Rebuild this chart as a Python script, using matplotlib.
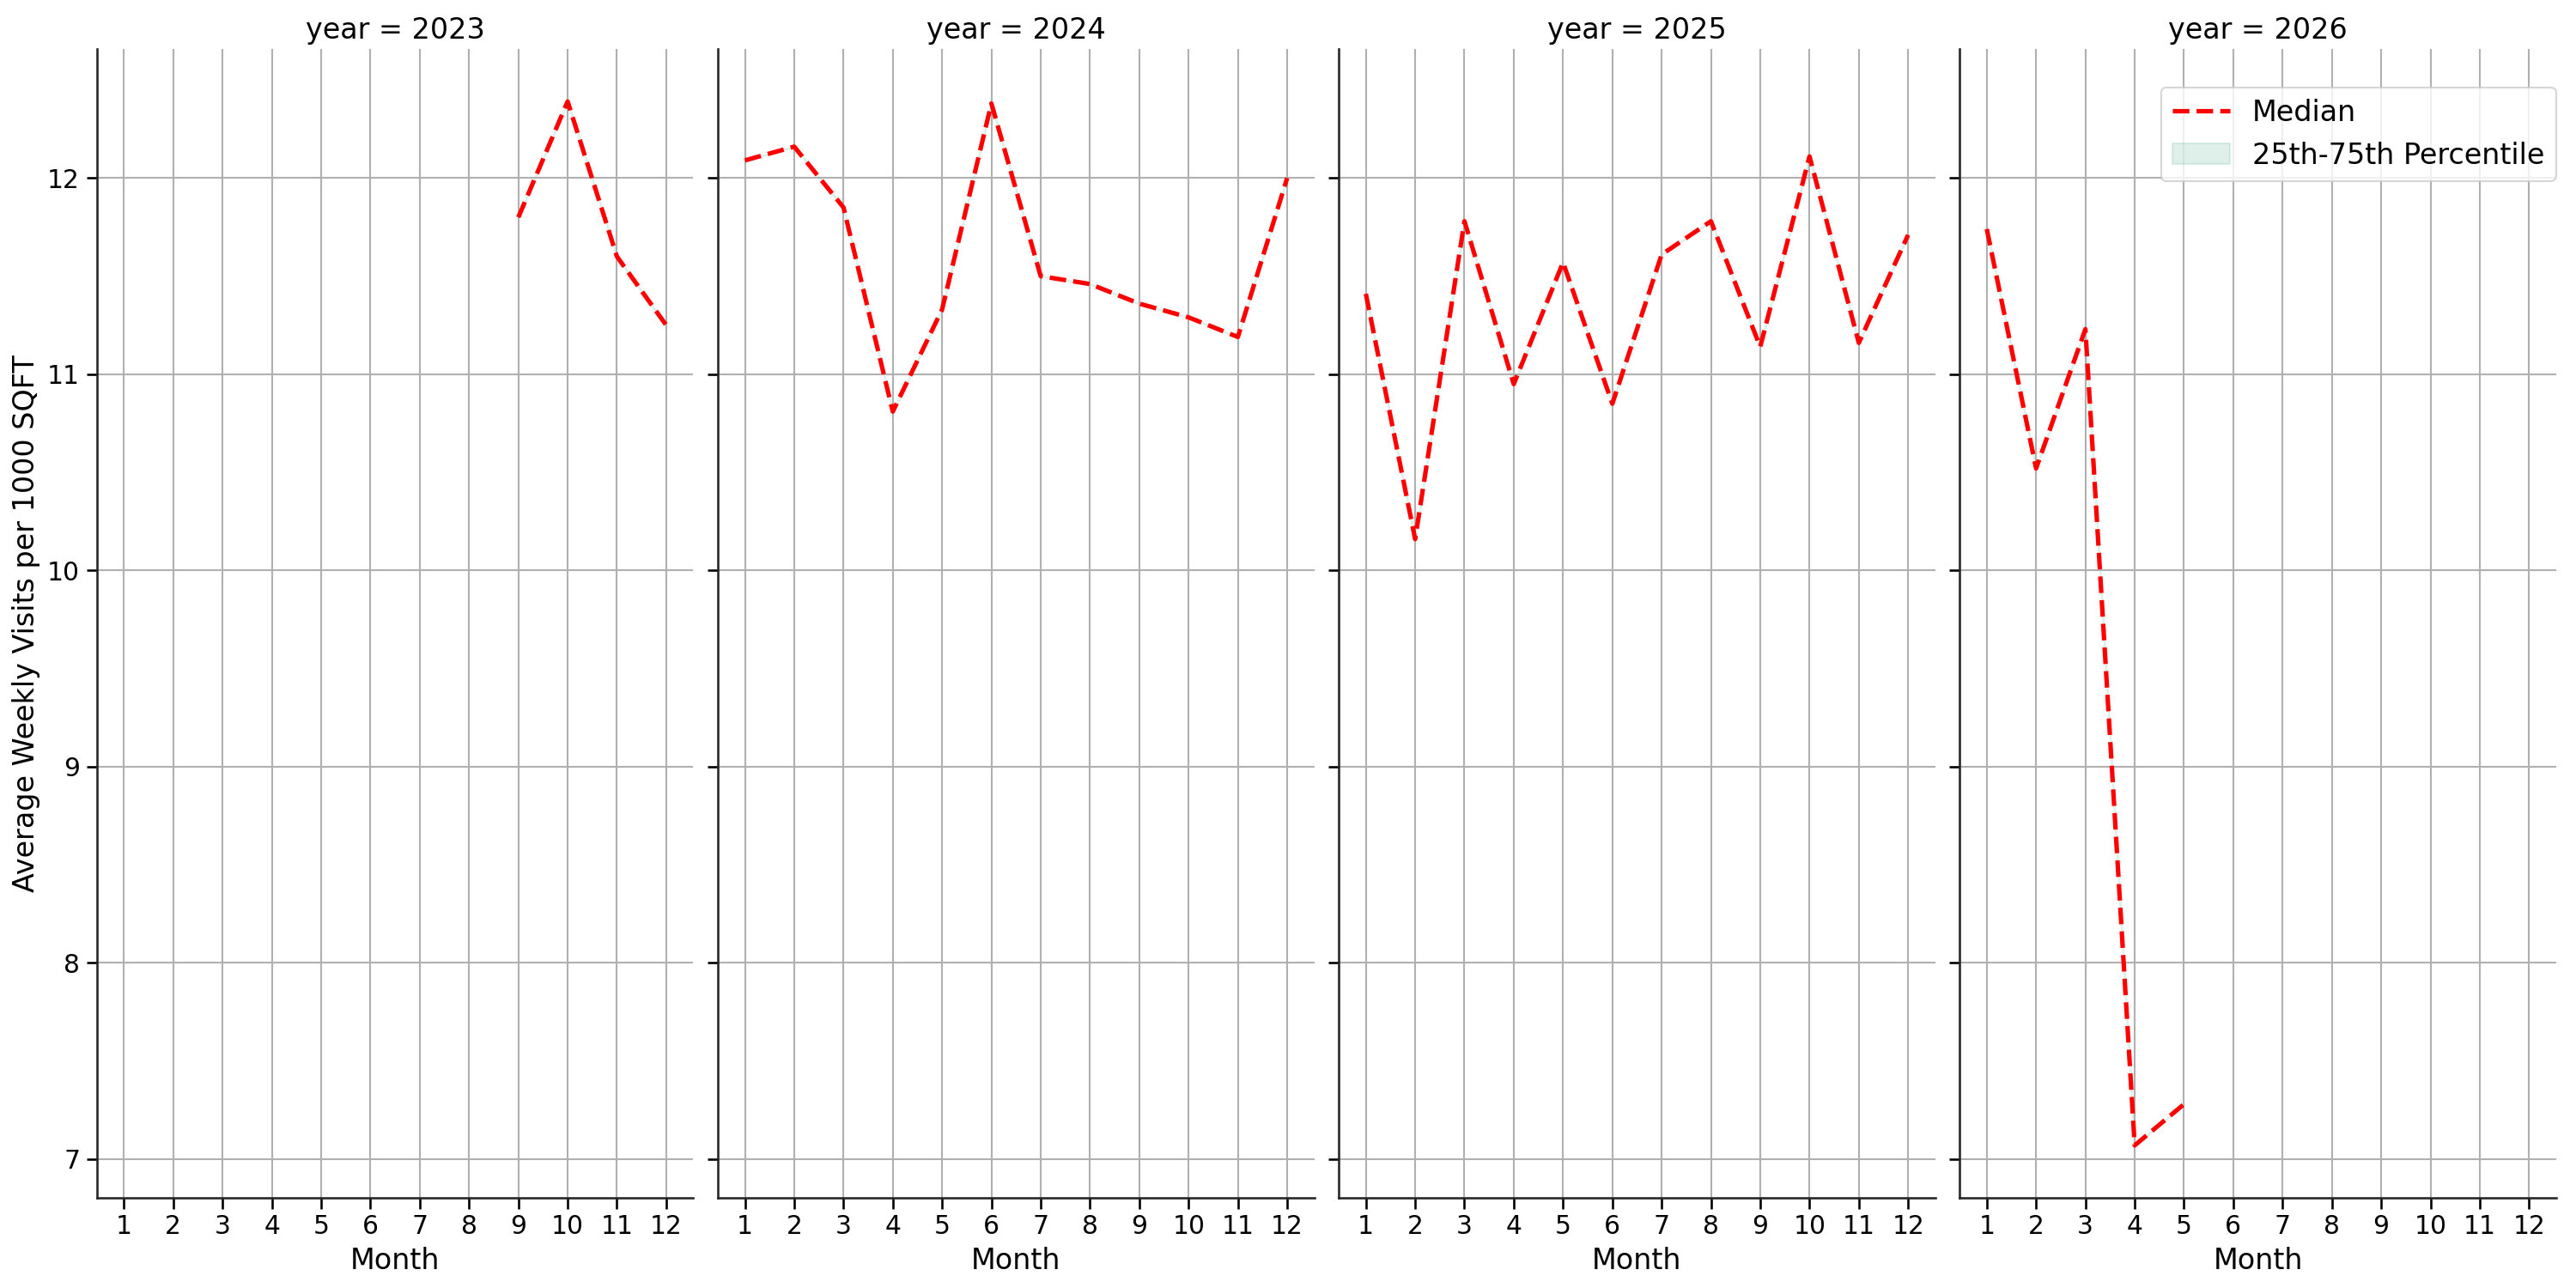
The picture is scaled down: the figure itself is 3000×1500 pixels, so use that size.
import matplotlib.pyplot as plt

# ── data (median weekly visits per 1000 sqft) ─────────────────────────────────
years = [2023, 2024, 2025, 2026]

months_2023 = [9, 10, 11, 12]
median_2023 = [11.80, 12.39, 11.60, 11.25]

months_2024 = [1, 2, 3, 4, 5, 6, 7, 8, 9, 10, 11, 12]
median_2024 = [12.09, 12.16, 11.85, 10.81, 11.33, 12.38, 11.50, 11.46, 11.36, 11.29, 11.19, 12.00]

months_2025 = [1, 2, 3, 4, 5, 6, 7, 8, 9, 10, 11, 12]
median_2025 = [11.41, 10.16, 11.78, 10.95, 11.57, 10.85, 11.61, 11.78, 11.14, 12.11, 11.16, 11.71]

months_2026 = [1, 2, 3, 4, 5]
median_2026 = [11.74, 10.52, 11.23, 7.07, 7.28]

month_ticks = list(range(1, 13))

series = [
    (months_2023, median_2023),
    (months_2024, median_2024),
    (months_2025, median_2025),
    (months_2026, median_2026),
]

BAND = "#5fb49b"
GRID = "#b0b0b0"

plt.rcParams.update({
    "axes.edgecolor": "#262626",
    "axes.linewidth": 1.25,
    "xtick.major.width": 1.25,
    "ytick.major.width": 1.25,
    "xtick.major.size": 6,
    "ytick.major.size": 6,
})

fig, axes = plt.subplots(1, 4, figsize=(20, 10), dpi=150, sharex=True, sharey=True)
fig.subplots_adjust(left=0.0376, right=0.9923, top=0.9617, bottom=0.0702, wspace=0.041)

for ax, year, (m, med) in zip(axes, years, series):
    ax.plot(m, med, color="red", linestyle="--", lw=2.5, label="Median")
    # the IQR band collapses onto the median line in the source, so it is invisible
    ax.fill_between(m, med, med, color=BAND, alpha=0.2, label="25th-75th Percentile")
    ax.set_title(f"year = {year}", fontsize=16)
    ax.set_xlabel("Month", fontsize=16)
    ax.set_xticks(month_ticks)
    ax.tick_params(labelsize=14.3)
    ax.grid(True, color=GRID, lw=1.0)
    ax.spines["top"].set_visible(False)
    ax.spines["right"].set_visible(False)

axes[0].set_ylabel("Average Weekly Visits per 1000 SQFT", fontsize=16)
axes[-1].legend(loc="upper right", bbox_to_anchor=(1.0, 0.967), borderaxespad=0,
                fontsize=16)

plt.savefig("out.png")
plt.close()
